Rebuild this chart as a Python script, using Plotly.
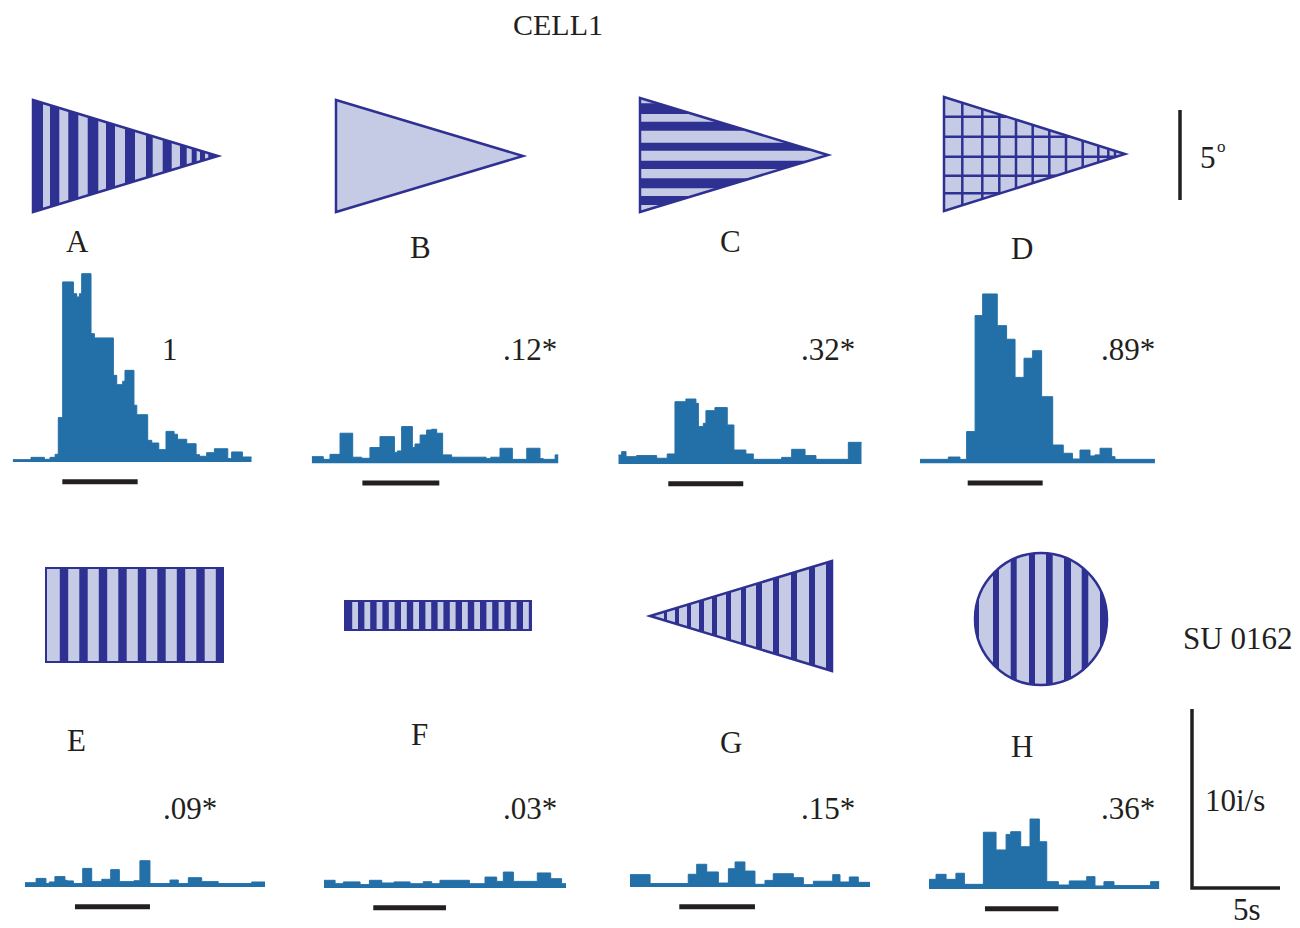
import math
import plotly.graph_objects as go

# ---------------- data ----------------
letters = ["A", "B", "C", "D", "E", "F", "G", "H"]
index_labels = ["1", ".12*", ".32*", ".89*", ".09*", ".03*", ".15*", ".36*"]

# bin edges (s) and firing rates (i/s) for each stimulus
t_A = [0, 1.04, 1.80, 2.12, 2.41, 2.59, 2.84, 3.45, 3.64, 3.79, 3.92, 4.45, 4.64, 5.72, 5.91, 6.25, 6.38,
       6.89, 7.05, 7.67, 7.90, 8.30, 8.71, 9.17, 9.36, 9.89, 10.42, 10.61, 11.02, 11.46, 12.22, 12.44, 13.05, 13.58]
r_A = [0.13, 0.26, 0.15, 0.26, 0.43, 2.48, 10.06, 9.40, 9.22, 9.40, 10.52, 7.17, 6.93, 4.84, 4.32, 4.51, 5.12,
       3.17, 2.64, 1.21, 1.06, 0.69, 1.71, 1.55, 1.27, 1.02, 0.41, 0.32, 0.52, 0.74, 0.19, 0.56, 0.28]

t_B = [0, 0.66, 1.04, 1.61, 2.33, 2.84, 3.31, 3.88, 4.70, 4.87, 5.11, 5.72, 5.87, 6.16, 6.53, 6.82, 7.10,
       7.44, 7.95, 9.91, 10.17, 10.70, 11.40, 12.22, 12.97, 13.16, 13.83, 14.02]
r_B = [0.37, 0.22, 0.50, 1.68, 0.34, 0.28, 0.88, 1.49, 0.61, 0.69, 2.05, 0.88, 1.08, 1.58, 1.86, 1.90, 1.68,
       0.47, 0.34, 0.26, 0.34, 0.84, 0.22, 0.84, 0.26, 0.22, 0.47]

t_C = [0, 0.19, 0.44, 1.04, 2.18, 2.78, 3.22, 3.84, 4.41, 4.55, 4.83, 4.98, 5.49, 6.19, 6.57, 7.25, 7.67,
       9.28, 9.85, 10.61, 11.23, 13.07, 13.83]
r_C = [0.50, 0.69, 0.41, 0.47, 0.32, 0.56, 3.48, 3.63, 3.39, 2.09, 2.27, 2.98, 3.15, 2.18, 0.78, 0.56,
       0.26, 0.37, 0.82, 0.47, 0.26, 1.21]

t_D = [0, 1.61, 2.27, 2.65, 3.13, 3.56, 4.39, 4.92, 5.40, 5.91, 6.40, 6.91, 7.54, 8.14, 8.66, 9.09, 9.66,
       9.94, 10.23, 10.89, 11.08, 13.35]
r_D = [0.22, 0.35, 0.22, 1.77, 8.25, 9.46, 7.69, 6.93, 4.80, 5.87, 6.29, 3.72, 1.02, 0.56, 0.24, 0.74,
       0.41, 0.47, 0.84, 0.37, 0.22]

t_E = [0, 0.63, 1.19, 1.38, 1.70, 2.27, 2.41, 2.75, 3.28, 3.79, 4.36, 4.87, 5.36, 6.19, 6.53, 7.10, 8.24,
       8.71, 9.28, 10.04, 10.98, 12.88, 13.64]
r_E = [0.24, 0.48, 0.19, 0.28, 0.58, 0.37, 0.34, 0.19, 1.04, 0.30, 0.43, 0.97, 0.30, 0.35, 1.47, 0.19,
       0.39, 0.19, 0.52, 0.30, 0.19, 0.28]

t_F = [0, 0.63, 1.10, 2.05, 2.58, 3.28, 3.98, 4.89, 5.64, 6.12, 6.59, 8.26, 9.15, 9.81, 10.19, 10.76,
       12.12, 12.88, 13.50, 13.75]
r_F = [0.43, 0.24, 0.34, 0.19, 0.43, 0.28, 0.34, 0.24, 0.35, 0.24, 0.43, 0.24, 0.61, 0.37, 0.89, 0.37,
       0.84, 0.52, 0.24]

t_G = [0, 1.14, 3.31, 3.79, 4.36, 5.02, 5.59, 5.97, 6.53, 7.10, 7.67, 8.14, 9.28, 9.85, 10.42, 11.52,
       11.93, 12.46, 12.97, 13.64]
r_G = [0.69, 0.19, 0.71, 1.27, 0.84, 0.22, 1.02, 1.40, 0.89, 0.15, 0.37, 0.74, 0.52, 0.13, 0.32, 0.69,
       0.28, 0.56, 0.26]

t_H = [0, 0.40, 0.97, 1.53, 2.01, 3.09, 3.81, 4.38, 4.64, 5.21, 5.74, 6.27, 6.69, 7.35, 7.97, 8.96, 9.43,
       9.94, 10.51, 12.59, 13.09]
r_H = [0.54, 0.82, 0.54, 0.88, 0.26, 3.17, 2.18, 3.05, 3.20, 2.36, 3.91, 2.64, 0.41, 0.22, 0.45, 0.69,
       0.17, 0.41, 0.19, 0.41]

stim_on = [2.82, 2.88, 2.84, 2.71, 2.84, 2.80, 2.80, 3.18]
stim_off = [7.10, 7.25, 7.10, 6.97, 7.10, 6.93, 7.10, 7.35]

scale_time = [0, 0, 5]      # s
scale_rate = [10, 0, 0]     # i/s

edges = [t_A, t_B, t_C, t_D, t_E, t_F, t_G, t_H]
rates = [r_A, r_B, r_C, r_D, r_E, r_F, r_G, r_H]

# ---------------- layout constants ----------------
OFF = 8                      # page margin of the browser body
W, H = 1300 - OFF, 928 - OFF  # figure size
PX_PER_S = 17.6
PX_PER_RATE = 17.9
Y_LO, Y_HI = -1.6, 11.0
panel_left = [12.7, 311.7, 618.3, 920, 25, 324, 630, 929]
panel_base = [462, 463.3, 464, 463.3, 887, 888, 887, 889]

HIST = "#2370a8"
DARK = "#2e3192"
LIGHT = "#c6cbe5"
BLACK = "#231f20"
FONT = "Liberation Serif"
FS = 31


def fx(px):
    return (px - OFF) / W


def fy(py):
    return 1 - (py - OFF) / H


fig = go.Figure()
layout_axes = {}

for i in range(8):
    n = "" if i == 0 else str(i + 1)
    x = edges[i]
    y = rates[i] + [rates[i][-1]]
    fig.add_trace(go.Scatter(x=x, y=y, mode="lines", line=dict(color=HIST, width=1, shape="hv"),
                             fill="tozeroy", fillcolor=HIST, xaxis="x" + n, yaxis="y" + n,
                             hoverinfo="skip", showlegend=False))
    fig.add_trace(go.Scatter(x=[stim_on[i], stim_off[i]], y=[-1.1, -1.1], mode="lines",
                             line=dict(color=BLACK, width=5), xaxis="x" + n, yaxis="y" + n,
                             hoverinfo="skip", showlegend=False))
    left = panel_left[i]
    right = left + x[-1] * PX_PER_S
    base = panel_base[i]
    top_px = base - Y_HI * PX_PER_RATE
    bot_px = base - Y_LO * PX_PER_RATE
    layout_axes["xaxis" + n] = dict(domain=[fx(left), fx(right)], range=[0, x[-1]], visible=False,
                                    anchor="y" + n, fixedrange=True)
    layout_axes["yaxis" + n] = dict(domain=[fy(bot_px), fy(top_px)], range=[Y_LO, Y_HI],
                                    visible=False, anchor="x" + n, fixedrange=True)

# scale bar axes (same scale as histograms)
sx0, sbase = 1192, 888
pad = 0.3
layout_axes["xaxis9"] = dict(domain=[fx(sx0 - pad * PX_PER_S), fx(sx0 + (5 + pad) * PX_PER_S)],
                             range=[-pad, 5 + pad], visible=False, anchor="y9", fixedrange=True)
layout_axes["yaxis9"] = dict(domain=[fy(sbase + pad * PX_PER_RATE), fy(sbase - (10 + pad) * PX_PER_RATE)],
                             range=[-pad, 10 + pad], visible=False, anchor="x9", fixedrange=True)
fig.add_trace(go.Scatter(x=scale_time, y=scale_rate, mode="lines", line=dict(color=BLACK, width=3.5),
                         xaxis="x9", yaxis="y9", hoverinfo="skip", showlegend=False))

# ---------------- stimulus drawings ----------------
shapes = []


def path(pts):
    return "M " + " L ".join(f"{fx(px):.5f},{fy(py):.5f}" for px, py in pts) + " Z"


def poly(pts, fill="rgba(0,0,0,0)", line=None, lw=0):
    shapes.append(dict(type="path", xref="paper", yref="paper", path=path(pts), fillcolor=fill,
                       line=dict(color=line or "rgba(0,0,0,0)", width=lw), layer="above"))


def seg(p, q, lw=2.5, color=DARK):
    shapes.append(dict(type="line", xref="paper", yref="paper", x0=fx(p[0]), y0=fy(p[1]),
                       x1=fx(q[0]), y1=fy(q[1]), line=dict(color=color, width=lw), layer="above"))


def triangle(base, apex, cy, h):
    return [(base, cy - h), (apex, cy), (base, cy + h)]


def tri_vstripes(base, apex, cy, h, stripes):
    lo, hi = min(base, apex), max(base, apex)
    hh = lambda x: h * (x - apex) / (base - apex)
    for xa, xb in stripes:
        xa, xb = max(xa, lo), min(xb, hi)
        poly([(xa, cy - hh(xa)), (xb, cy - hh(xb)), (xb, cy + hh(xb)), (xa, cy + hh(xa))], fill=DARK)


def tri_hstripes(base, apex, cy, h, stripes):
    xe = lambda y: apex + (base - apex) * abs(y - cy) / h
    for ya, yb in stripes:
        pts = [(base, ya), (xe(ya), ya)]
        if ya < cy < yb:
            pts.append((apex, cy))
        pts += [(xe(yb), yb), (base, yb)]
        poly(pts, fill=DARK)


# A: converging vertical grating
tA = (33, 218, 156, 56)
poly(triangle(*tA), fill=LIGHT)
tri_vstripes(*tA, [(33, 43), (50, 59.3), (68.3, 78.3), (87.7, 98.3), (106, 115), (125, 135), (146, 152.7),
                   (162.7, 171.7), (180, 186.7), (191.7, 196.7), (200, 205), (208.3, 218)])
poly(triangle(*tA), line=DARK, lw=2.5)

# B: plain triangle
tB = (336, 523, 156, 56)
poly(triangle(*tB), fill=LIGHT, line=DARK, lw=2.5)

# C: horizontal grating
tC = (640, 828, 155, 57)
poly(triangle(*tC), fill=LIGHT)
tri_hstripes(*tC, [(103.3, 114), (121.7, 130.7), (142.7, 150.7), (160.7, 169), (178.3, 188.3), (196, 205)])
poly(triangle(*tC), line=DARK, lw=2.5)

# D: checker grid
tD = (944, 1125, 154, 57)
poly(triangle(*tD), fill=LIGHT)
b, a, cy, h = tD
for gx in [962.3, 982.3, 999.3, 1016, 1032.7, 1049.3, 1066, 1082.7, 1098.3, 1108.3, 1115]:
    hh = h * (gx - a) / (b - a)
    seg((gx, cy - hh), (gx, cy + hh))
for gy in [116.7, 136.7, 156.7, 175.7, 193.3]:
    xe = a + (b - a) * abs(gy - cy) / h
    seg((b, gy), (xe, gy))
poly(triangle(*tD), line=DARK, lw=2.5)

# E: large rectangle grating
ex0, ey0, ex1, ey1 = 46, 568, 223, 662
poly([(ex0, ey0), (ex1, ey0), (ex1, ey1), (ex0, ey1)], fill=LIGHT)
for k in range(9):
    c = 64 + 19.5 * k
    xa, xb = max(c - 4.2, ex0), min(c + 4.2, ex1)
    poly([(xa, ey0), (xb, ey0), (xb, ey1), (xa, ey1)], fill=DARK)
poly([(ex0, ey0), (ex1, ey0), (ex1, ey1), (ex0, ey1)], line=DARK, lw=2)

# F: thin rectangle grating
fx0, fy0, fx1, fy1 = 345, 601, 531, 630
poly([(fx0, fy0), (fx1, fy0), (fx1, fy1), (fx0, fy1)], fill=LIGHT)
for k in range(16):
    c = 349 + 12.2 * k
    xa, xb = max(c - 3.2, fx0), min(c + 3.2, fx1)
    if xb > xa:
        poly([(xa, fy0), (xb, fy0), (xb, fy1), (xa, fy1)], fill=DARK)
poly([(fx0, fy0), (fx1, fy0), (fx1, fy1), (fx0, fy1)], line=DARK, lw=2)

# G: diverging grating (apex on the left)
tG = (832, 650, 616, 55)
poly(triangle(*tG), fill=LIGHT)
tri_vstripes(*tG, [(664, 667), (675, 679), (687, 691), (699, 704), (712, 717), (726, 731), (741, 746),
                   (756, 762), (773, 779), (791, 797), (809, 815), (826, 832)])
poly(triangle(*tG), line=DARK, lw=2.5)

# H: circular grating
cx, cyc, r = 1041, 619, 66
shapes.append(dict(type="circle", xref="paper", yref="paper", x0=fx(cx - r), x1=fx(cx + r),
                   y0=fy(cyc + r), y1=fy(cyc - r), fillcolor=LIGHT, line=dict(width=0)))
for xa, xb in [(975, 979), (993, 999), (1010.7, 1016.7), (1029, 1035), (1046, 1052.7), (1064, 1071),
               (1081.7, 1088.3), (1100, 1106)]:
    xs = [xa + (xb - xa) * j / 4 for j in range(5)]
    top = [(xx, cyc - math.sqrt(max(r * r - (xx - cx) ** 2, 0))) for xx in xs]
    bot = [(xx, cyc + math.sqrt(max(r * r - (xx - cx) ** 2, 0))) for xx in reversed(xs)]
    poly(top + bot, fill=DARK)
shapes.append(dict(type="circle", xref="paper", yref="paper", x0=fx(cx - r), x1=fx(cx + r),
                   y0=fy(cyc + r), y1=fy(cyc - r), fillcolor="rgba(0,0,0,0)",
                   line=dict(color=DARK, width=2.5), layer="above"))

# 5 degree scale bar
seg((1180, 110), (1180, 200), lw=3.5, color=BLACK)

# ---------------- text ----------------
ann = []


def text(s, x, y, size=FS, yanchor="middle"):
    ann.append(dict(text=s, x=fx(x), y=fy(y), xref="paper", yref="paper", showarrow=False,
                    xanchor="center", yanchor=yanchor, borderpad=0,
                    font=dict(family=FONT, size=size, color=BLACK)))


text("CELL1", 558, 24.5, size=30)
letter_pos = [(77, 242), (420, 247), (730, 241), (1022, 248), (76, 740), (419, 734), (731, 742), (1022, 746)]
index_pos = [(170, 350), (530, 350), (828, 350), (1128, 350), (190, 808), (530, 808), (828, 808), (1128, 808)]
for i in range(8):
    text(letters[i], *letter_pos[i])
    text(index_labels[i], *index_pos[i])
text("SU 0162", 1237, 638)
text("5", 1208, 157)
text("o", 1221, 146, size=17)
text("10i/s", 1235, 800)
text("5s", 1247, 927.5, yanchor="bottom")

fig.update_layout(width=W, height=H, margin=dict(l=0, r=0, t=0, b=0), paper_bgcolor="white",
                  plot_bgcolor="rgba(0,0,0,0)", showlegend=False, shapes=shapes, annotations=ann,
                  **layout_axes)
fig.write_html("out.html")
